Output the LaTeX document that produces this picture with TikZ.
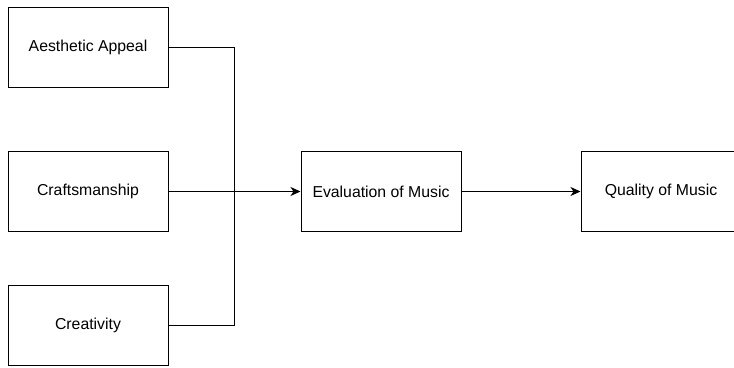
\documentclass[tikz,border=0pt]{standalone}
\usepackage{fontspec}
\setmainfont{Liberation Sans}
\usetikzlibrary{arrows.meta}
\begin{document}
\begin{tikzpicture}[x=1pt,y=-1pt,
  box/.style={draw=black, line width=1pt, minimum width=160pt, minimum height=80pt,
    inner sep=0pt, font=\fontsize{15.8}{18}\selectfont},
  link/.style={draw=black, line width=1pt},
  arrow/.style={link, -{Stealth[length=10pt,width=9pt,inset=3pt]}}]
  \useasboundingbox (0,0) rectangle (734,367);
  \clip (0,0) rectangle (734,367);
  \node[box] (aes) at (88,47.5) {Aesthetic Appeal};
  \node[box] (craft) at (88,191.5) {Craftsmanship};
  \node[box] (crea) at (88,325) {Creativity};
  \node[box] (eval) at (381,191.5) {Evaluation of Music};
  \node[box] (qual) at (661,191.5) {Quality of Music};
  \coordinate (bus) at (234.5,0);
  \draw[link] (aes.east) -| (bus |- crea.east) -- (crea.east);
  \draw[arrow] (craft.east) -- (eval.west);
  \draw[arrow] (eval.east) -- (qual.west);
\end{tikzpicture}
\end{document}
